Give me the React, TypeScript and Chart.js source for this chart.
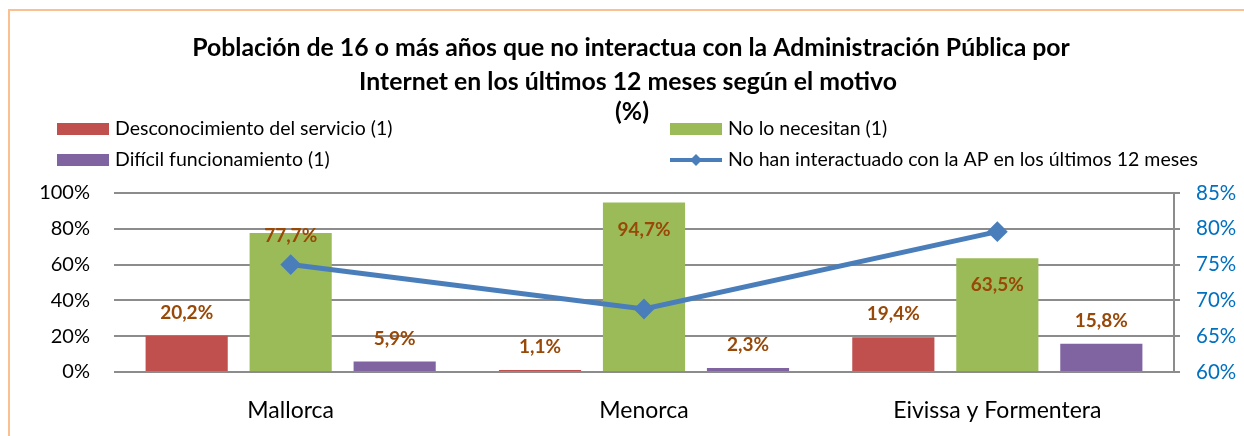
import { useEffect, useRef } from "react";
import { Chart, registerables } from "chart.js";

Chart.register(...registerables);

const categories = ["Mallorca", "Menorca", "Eivissa y Formentera"];
const desconocimiento = [20.2, 1.1, 19.4];
const noNecesitan = [77.7, 94.7, 63.5];
const dificil = [5.9, 2.3, 15.8];
const noInteractuado = [75.0, 68.8, 79.6];
const leftTicks = [0, 20, 40, 60, 80, 100];
const rightTicks = [60, 65, 70, 75, 80, 85];
const titleLines = [
  "Población de 16 o más años que no interactua con la Administración Pública por",
  "Internet en los últimos 12 meses según el motivo",
  "(%)",
];
const seriesNames = [
  "Desconocimiento del servicio (1)",
  "No lo necesitan (1)",
  "Difícil funcionamiento (1)",
  "No han interactuado con la AP en los últimos 12 meses",
];

const RED = "#C0504D";
const GREEN = "#9BBB59";
const PURPLE = "#8064A2";
const BLUE = "#4A7EBB";
const LABEL = "#984807";
const GRID = "#8C8C8C";
const FONT = "Lato, 'Open Sans', sans-serif";

const fmt = (v: number) => v.toFixed(1).replace(".", ",") + "%";

const decorPlugin = {
  id: "decor",
  beforeDraw(chart: any) {
    const ctx = chart.ctx;
    ctx.save();
    ctx.fillStyle = "#ffffff";
    ctx.fillRect(0, 0, chart.width, chart.height);
    ctx.strokeStyle = "#FAC090";
    ctx.lineWidth = 2;
    ctx.strokeRect(9, 10, chart.width + 20, chart.height + 20);
    // title
    ctx.fillStyle = "#000000";
    ctx.textAlign = "center";
    ctx.textBaseline = "middle";
    ctx.font = `bold 24.8px ${FONT}`;
    const ty = [48, 82, 112];
    const tx = [631, 628, 632];
    titleLines.forEach((t, i) => ctx.fillText(t, tx[i], ty[i]));
    // legend
    ctx.font = `19.5px ${FONT}`;
    ctx.textAlign = "left";
    const items = [
      { x: 57, y: 129, color: RED, type: "box", w: 52 },
      { x: 670, y: 129, color: GREEN, type: "box", w: 52 },
      { x: 57, y: 160, color: PURPLE, type: "box", w: 52 },
      { x: 670, y: 160, color: BLUE, type: "line", w: 52 },
    ];
    items.forEach((it, i) => {
      if (it.type === "box") {
        ctx.fillStyle = it.color;
        ctx.fillRect(it.x, it.y - 6, it.w, 12);
      } else {
        ctx.strokeStyle = it.color;
        ctx.lineWidth = 4;
        ctx.beginPath();
        ctx.moveTo(it.x, it.y);
        ctx.lineTo(it.x + it.w, it.y);
        ctx.stroke();
        const cx = it.x + it.w / 2;
        ctx.fillStyle = it.color;
        ctx.beginPath();
        ctx.moveTo(cx, it.y - 6);
        ctx.lineTo(cx + 6, it.y);
        ctx.lineTo(cx, it.y + 6);
        ctx.lineTo(cx - 6, it.y);
        ctx.closePath();
        ctx.fill();
      }
      ctx.fillStyle = "#000000";
      ctx.fillText(seriesNames[i], it.x + it.w + 6, it.y);
    });
    ctx.restore();
  },
  afterDatasetsDraw(chart: any) {
    const ctx = chart.ctx;
    ctx.save();
    ctx.font = `bold 19px ${FONT}`;
    ctx.fillStyle = LABEL;
    ctx.textAlign = "center";
    ctx.textBaseline = "middle";
    [0, 1, 2].forEach((di) => {
      const meta = chart.getDatasetMeta(di);
      const data = chart.data.datasets[di].data as number[];
      meta.data.forEach((el: any, i: number) => {
        let y = el.y - 23;
        if (di === 1) y = i === 0 ? el.y + 3 : el.y + 27;
        ctx.fillText(fmt(data[i]), el.x, y);
      });
    });
    ctx.restore();
  },
};

export default function App() {
  const ref = useRef<HTMLCanvasElement | null>(null);
  useEffect(() => {
    if (!ref.current) return;
    const chart = new Chart(ref.current, {
      type: "bar",
      data: {
        labels: categories,
        datasets: [
          { label: seriesNames[0], data: desconocimiento, backgroundColor: RED, yAxisID: "y", order: 1, categoryPercentage: 0.883, barPercentage: 0.79 },
          { label: seriesNames[1], data: noNecesitan, backgroundColor: GREEN, yAxisID: "y", order: 1, categoryPercentage: 0.883, barPercentage: 0.79 },
          { label: seriesNames[2], data: dificil, backgroundColor: PURPLE, yAxisID: "y", order: 1, categoryPercentage: 0.883, barPercentage: 0.79 },
          {
            type: "line" as any,
            label: seriesNames[3],
            data: noInteractuado,
            yAxisID: "y1",
            order: 0,
            borderColor: BLUE,
            backgroundColor: BLUE,
            borderWidth: 5,
            pointStyle: "rectRot",
            pointRadius: 9,
            pointBorderWidth: 2,
            pointBackgroundColor: BLUE,
            pointBorderColor: BLUE,
            tension: 0,
          } as any,
        ],
      },
      options: {
        responsive: false,
        animation: false,
        devicePixelRatio: 1,
        layout: { padding: { top: 193, left: 0, right: 0, bottom: 0 } },
        plugins: { legend: { display: false }, title: { display: false }, tooltip: { enabled: false } },
        scales: {
          x: {
            grid: { display: false, drawTicks: false },
            border: { display: false },
            ticks: { color: "#000000", font: { family: FONT, size: 23 }, padding: 25 },
            afterFit: (s: any) => { s.height = 64; },
          },
          y: {
            position: "left",
            min: 0,
            max: 100,
            afterBuildTicks: (s: any) => { s.ticks = leftTicks.map((v) => ({ value: v })); },
            ticks: { color: "#000000", font: { family: FONT, size: 20 }, padding: 24, callback: (v: any) => v + "%" },
            grid: { color: GRID, lineWidth: 2, drawTicks: false },
            border: { display: false },
            afterFit: (s: any) => { s.width = 114; },
          },
          y1: {
            position: "right",
            min: 60,
            max: 85,
            afterBuildTicks: (s: any) => { s.ticks = rightTicks.map((v) => ({ value: v })); },
            ticks: { color: "#0070C0", font: { family: FONT, size: 20.5 }, padding: 16, callback: (v: any) => v + "%" },
            grid: { drawOnChartArea: false, color: GRID, lineWidth: 2, tickLength: 6 },
            border: { display: true, color: GRID, width: 2 },
            afterFit: (s: any) => { s.width = 70; },
          },
        },
      } as any,
      plugins: [decorPlugin],
    });
    return () => chart.destroy();
  }, []);
  return (
    <div style={{ position: "fixed", left: 0, top: 0, width: 1244, height: 436, background: "#fff" }}>
      <canvas ref={ref} width={1244} height={436} style={{ width: 1244, height: 436, display: "block" }} />
    </div>
  );
}
